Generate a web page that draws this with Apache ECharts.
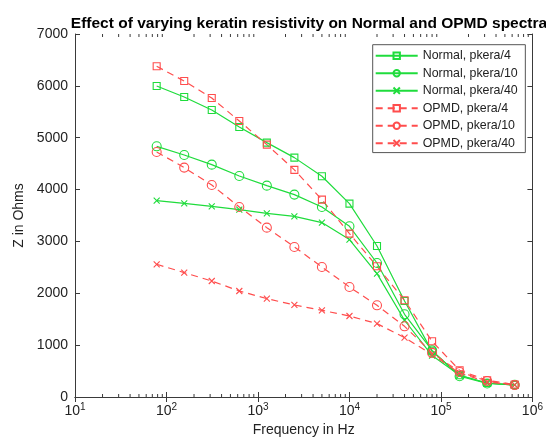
<!DOCTYPE html>
<html>
<head>
<meta charset="utf-8">
<script src="https://cdn.jsdelivr.net/npm/echarts@6/dist/echarts.min.js"></script>
<style>html,body{margin:0;padding:0;background:#fff}#c{width:546px;height:445px}</style>
</head>
<body>
<div id="c"></div>
<script>
var freqs = [78.125, 156.25, 312.5, 625, 1250, 2500, 5000, 10000, 20000, 40000, 80000, 160000, 320000, 640000];
var normal4 = [5997, 5785, 5534, 5206, 4905, 4616, 4256, 3729, 2912, 1850, 880, 420, 270, 230];
var normal10 = [4834, 4667, 4481, 4262, 4076, 3903, 3664, 3292, 2584, 1595, 900, 400, 260, 235];
var normal40 = [3787, 3735, 3677, 3613, 3542, 3484, 3363, 3035, 2379, 1480, 800, 420, 265, 235];
var opmd4 = [6377, 6093, 5765, 5322, 4867, 4380, 3806, 3151, 2520, 1865, 1074, 515, 322, 240];
var opmd10 = [4725, 4424, 4088, 3664, 3266, 2893, 2507, 2121, 1768, 1363, 850, 482, 309, 230];
var opmd40 = [2559, 2399, 2237, 2044, 1897, 1775, 1672, 1562, 1415, 1145, 820, 460, 290, 235];
var seriesNames = ['Normal, pkera/4', 'Normal, pkera/10', 'Normal, pkera/40', 'OPMD, pkera/4', 'OPMD, pkera/10', 'OPMD, pkera/40'];
var yTicks = [0, 1000, 2000, 3000, 4000, 5000, 6000, 7000];

var GREEN = '#1fdc3c';
var RED = '#ff4d4d';
var AX = '#3a3a3a';
var FONT = 'Liberation Sans, Arial, sans-serif';
var CROSS = 'path://M0,0L10,10M10,0L0,10';

var minorTicks = [];
for (var d = 1; d <= 5; d++) {
  for (var k = 2; k <= 9; k++) minorTicks.push([k * Math.pow(10, d), 0]);
}

function pairs(ys) { return freqs.map(function (f, i) { return [f, ys[i]]; }); }

function mk(name, ys, color, symbol, size, dashed) {
  return {
    name: name, type: 'line', data: pairs(ys), color: color,
    symbol: symbol, symbolSize: size, showSymbol: true,
    lineStyle: { color: color, width: 1.2, type: dashed ? [7, 5] : 'solid' },
    itemStyle: { color: 'rgba(255,255,255,0)', borderColor: color, borderWidth: 1.1 },
    emphasis: { disabled: true }, animation: false, z: 3
  };
}

var chart = echarts.init(document.getElementById('c'), null, { renderer: 'canvas' });
chart.setOption({
  backgroundColor: '#fff',
  animation: false,
  title: {
    text: 'Effect of varying keratin resistivity on Normal and OPMD spectra',
    left: 304, top: 11, textAlign: 'center',
    textStyle: { fontFamily: FONT, fontSize: 15.5, fontWeight: 'bold', color: '#000' }
  },
  grid: { left: 75, right: 9, top: 34, bottom: 48 },
  legend: {
    data: seriesNames, orient: 'vertical', left: 372.7, top: 44.7,
    itemWidth: 42, itemHeight: 8, itemGap: 5.5,
    padding: [5, 7.6, 3.4, 2],
    backgroundColor: '#fff', borderColor: '#555', borderWidth: 1,
    textStyle: { fontFamily: FONT, fontSize: 12.4, lineHeight: 12, color: '#222' }
  },
  xAxis: [{
    type: 'log', logBase: 10, min: 10, max: 1000000, position: 'bottom',
    name: 'Frequency in Hz', nameLocation: 'middle', nameGap: 26,
    nameTextStyle: { fontFamily: FONT, fontSize: 14, color: '#222' },
    axisLine: { show: true, lineStyle: { color: AX, width: 1 } },
    axisTick: { show: true, inside: true, length: 5, lineStyle: { color: AX } },
    splitLine: { show: false },
    axisLabel: {
      margin: 5, color: '#222', fontFamily: FONT, fontSize: 14,
      formatter: function (v) { return '10{s|' + Math.round(Math.log10(v)) + '}'; },
      rich: { s: { fontSize: 10, padding: [0, 0, 8, 0], color: '#222', fontFamily: FONT } }
    }
  }, {
    type: 'log', logBase: 10, min: 10, max: 1000000, position: 'top',
    axisLine: { show: true, lineStyle: { color: AX, width: 1 } },
    axisTick: { show: true, inside: true, length: 5, lineStyle: { color: AX } },
    axisLabel: { show: false }, splitLine: { show: false }
  }],
  yAxis: [{
    type: 'value', min: 0, max: 7000, interval: 1000, position: 'left',
    name: 'Z in Ohms', nameLocation: 'middle', nameGap: 47, nameRotate: 90,
    nameTextStyle: { fontFamily: FONT, fontSize: 14, color: '#222' },
    axisLine: { show: true, lineStyle: { color: AX, width: 1 } },
    axisTick: { show: true, inside: true, length: 5, lineStyle: { color: AX } },
    splitLine: { show: false },
    axisLabel: {
      margin: 7, color: '#222', fontFamily: FONT, fontSize: 14,
      formatter: function (v) { return yTicks.indexOf(v) >= 0 ? String(v) : ''; }
    }
  }, {
    type: 'value', min: 0, max: 7000, interval: 1000, position: 'right',
    axisLine: { show: true, lineStyle: { color: AX, width: 1 } },
    axisTick: { show: true, inside: true, length: 5, lineStyle: { color: AX } },
    axisLabel: { show: false }, splitLine: { show: false }
  }],
  series: [
    mk(seriesNames[0], normal4, GREEN, 'rect', 7, false),
    mk(seriesNames[1], normal10, GREEN, 'circle', 9, false),
    mk(seriesNames[2], normal40, GREEN, CROSS, 6, false),
    mk(seriesNames[3], opmd4, RED, 'rect', 7, true),
    mk(seriesNames[4], opmd10, RED, 'circle', 9, true),
    mk(seriesNames[5], opmd40, RED, CROSS, 6, true),
    {
      type: 'custom', name: 'minor', data: minorTicks, silent: true, clip: false, z: 1,
      renderItem: function (params, api) {
        var b = api.coord([api.value(0), 0]);
        var t = api.coord([api.value(0), 7000]);
        var st = { stroke: AX, lineWidth: 1 };
        return { type: 'group', children: [
          { type: 'line', shape: { x1: b[0], y1: b[1], x2: b[0], y2: b[1] - 3 }, style: st },
          { type: 'line', shape: { x1: t[0], y1: t[1], x2: t[0], y2: t[1] + 3 }, style: st }
        ] };
      }
    }
  ]
});
</script>
</body>
</html>
